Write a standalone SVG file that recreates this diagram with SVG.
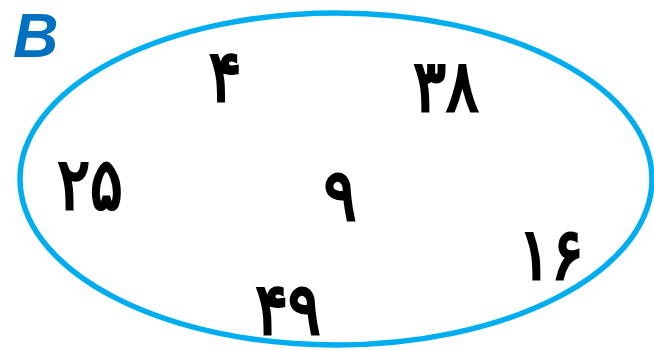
<svg xmlns="http://www.w3.org/2000/svg" width="654" height="350" viewBox="0 0 654 350">
<style>
.n{font-family:"DejaVu Sans","Noto Sans",sans-serif;font-weight:normal;font-size:58px;fill:#000;stroke:#000;stroke-width:2.5;text-anchor:middle}
</style>
<rect width="654" height="350" fill="#fff"/>
<g id="set">
<ellipse cx="336" cy="179" rx="316" ry="166" fill="none" stroke="#00AEEF" stroke-width="5.5"/>
</g>
<g id="label"><text x="13" y="57" font-family="Liberation Sans,Arial,sans-serif" font-weight="bold" font-style="italic" font-size="63" fill="#0070C0">B</text></g>
<g id="n4"><text class="n" transform="translate(225,101) scale(1.05,1.24)">۴</text></g>
<g id="n38"><text class="n" transform="translate(446,111) scale(1.05,1.24)">۳۸</text></g>
<g id="n25"><text class="n" transform="translate(90,209) scale(1.05,1.24)">۲۵</text></g>
<g id="n9"><text class="n" transform="translate(340,220) scale(1.05,1.24)">۹</text></g>
<g id="n16"><text class="n" transform="translate(551,279) scale(1.05,1.24)">۱۶</text></g>
<g id="n49"><text class="n" transform="translate(288,334) scale(1.05,1.24)">۴۹</text></g>
<g id="connectors"/>
</svg>
